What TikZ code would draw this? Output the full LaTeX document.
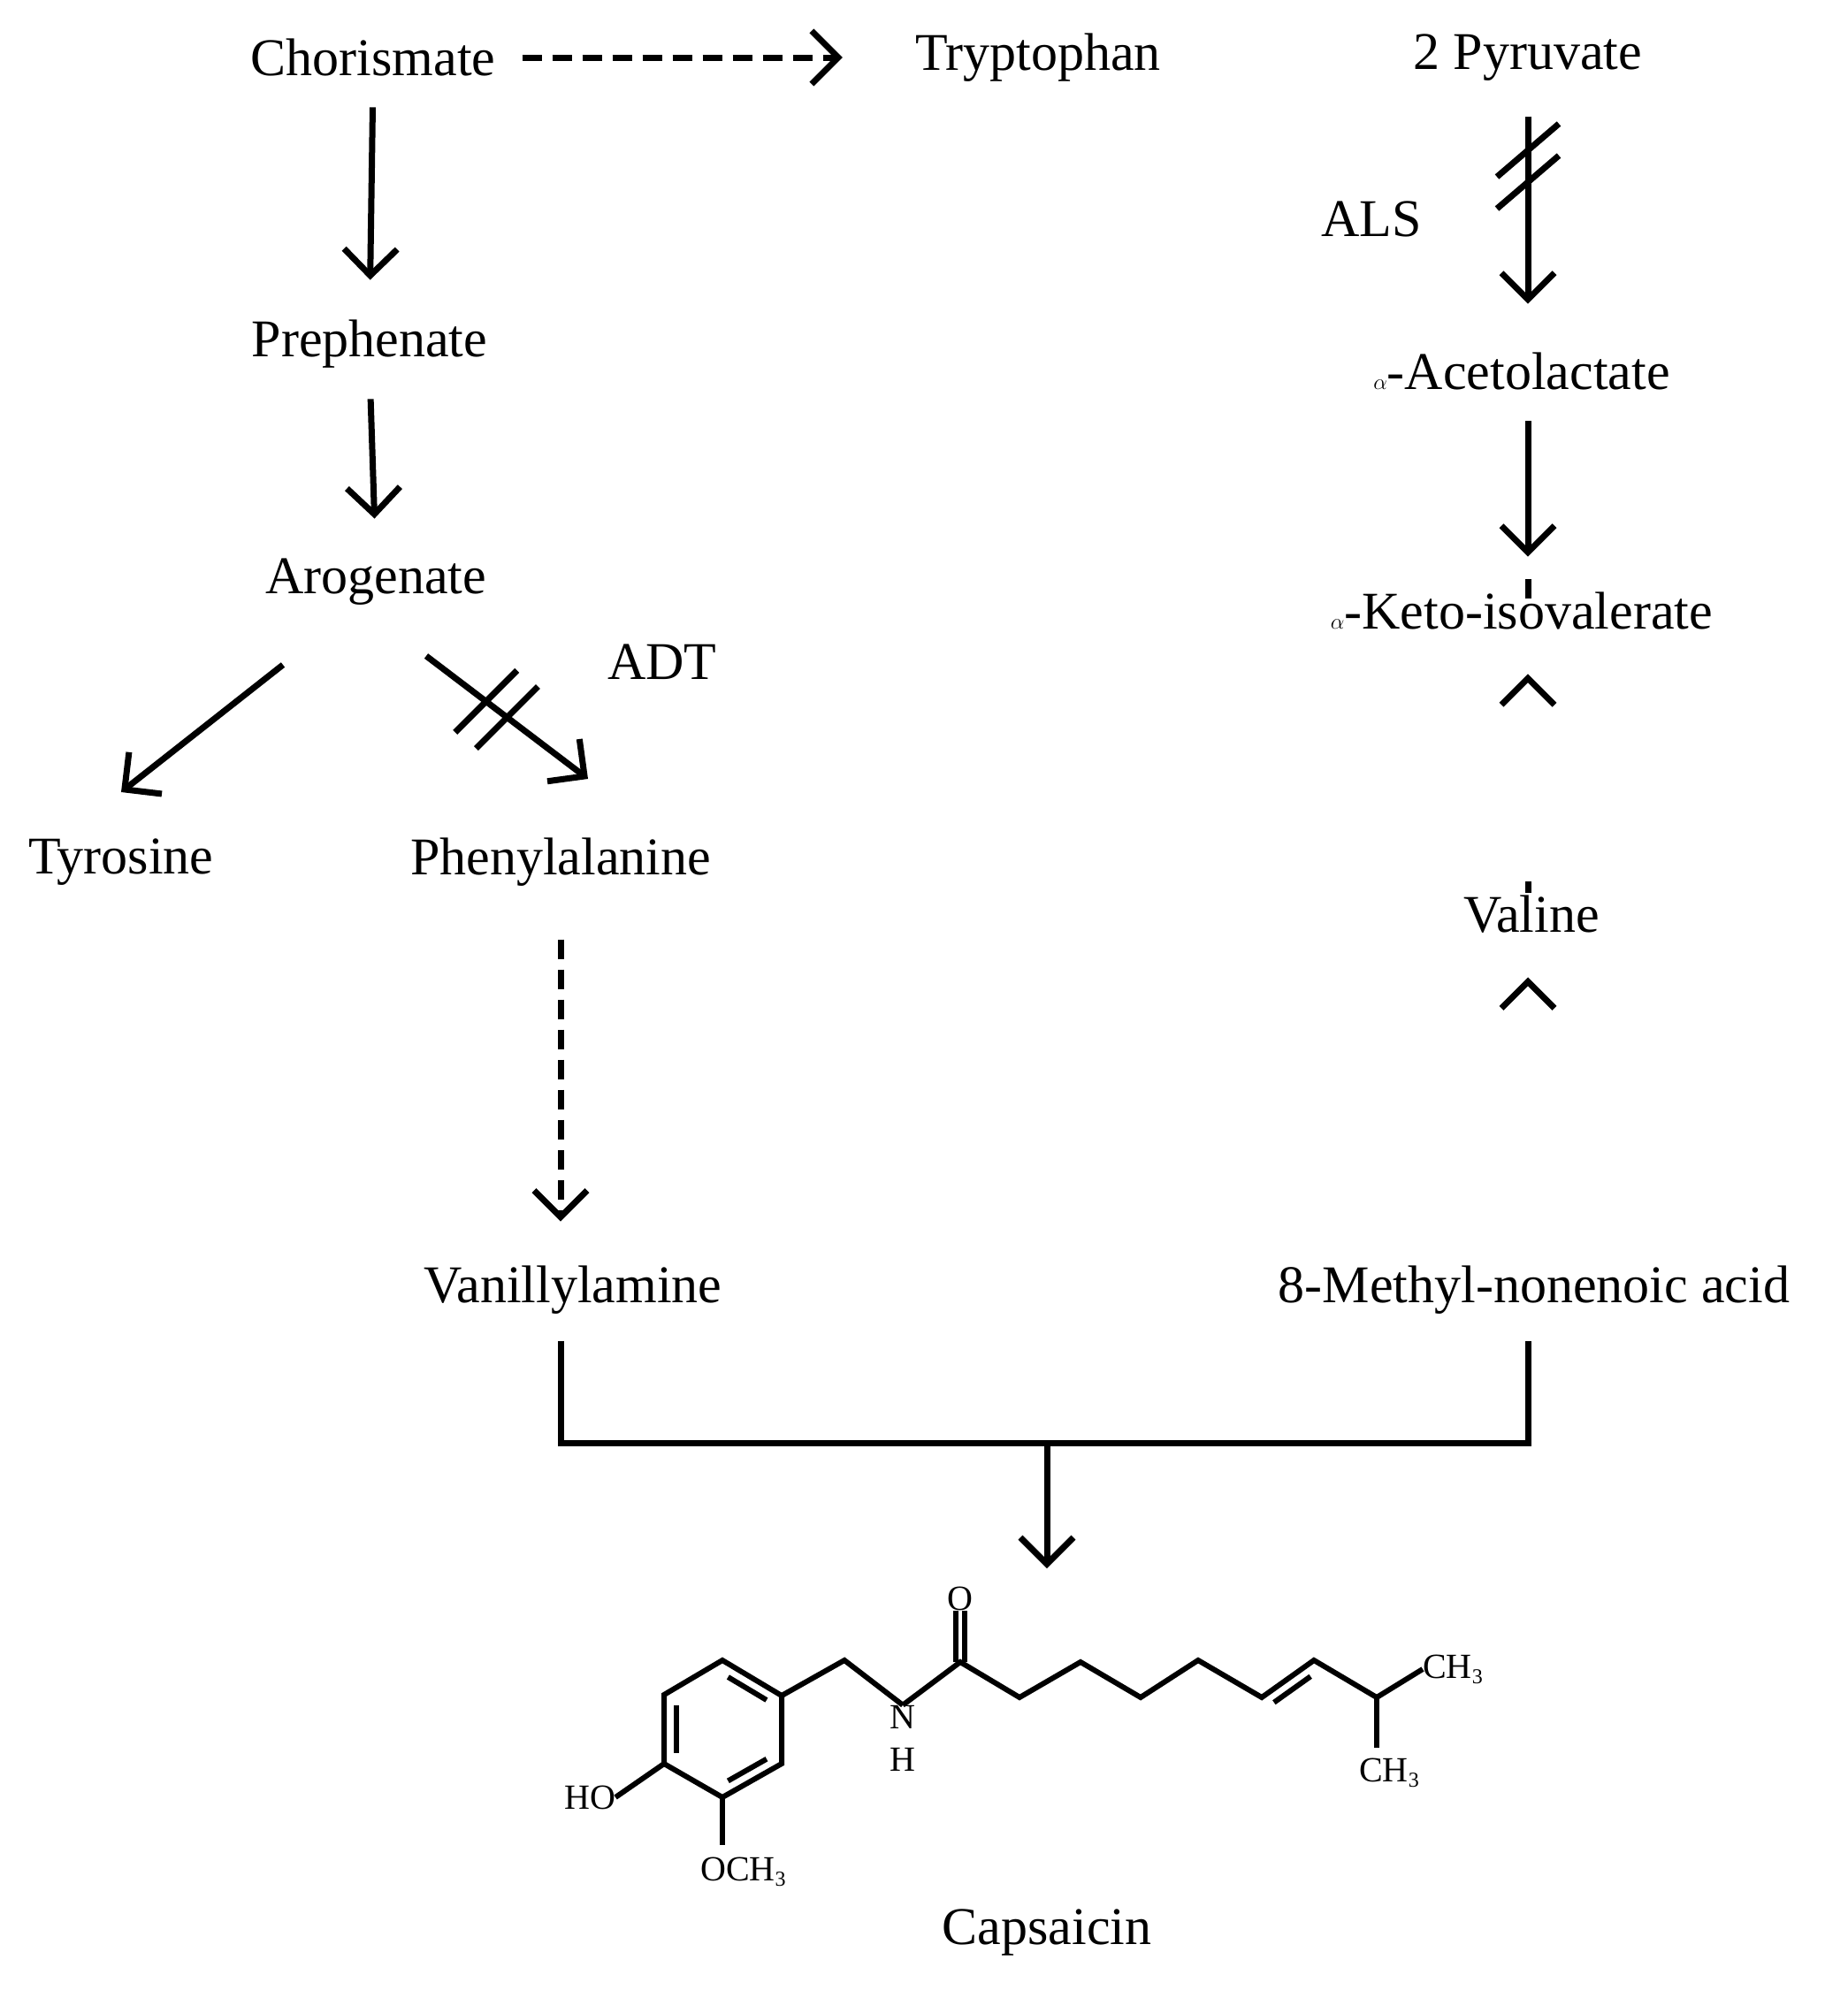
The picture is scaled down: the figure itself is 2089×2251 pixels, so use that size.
\documentclass[tikz,border=0pt]{standalone}
\usepackage{fontspec}
\setmainfont{Liberation Serif}
\usetikzlibrary{arrows.meta,calc}
\begin{document}
\begin{tikzpicture}[x=1pt,y=-1pt,
  lbl/.style={font=\fontsize{60}{66}\selectfont,inner sep=0pt},
  atom/.style={font=\fontsize{40}{44}\selectfont,inner sep=0pt},
  arr/.style={line width=7pt,-{Straight Barb[length=30pt,width=60pt,line width=7pt]}},
  dsh/.style={arr,dash pattern=on 22pt off 12pt},
  bond/.style={line width=6pt,line join=miter,line cap=butt},
  slash/.style={line width=7pt}]
\useasboundingbox (0,0) rectangle (2089,2251);
\node[lbl] (chor) at (422,65) {Chorismate};
\node[lbl] (tryp) at (1174,65) {Tryptophan};
\node[lbl] (pyr) at (1728,65) {2 Pyruvate};
\node[lbl] (preph) at (418,389) {Prephenate};
\node[lbl] (arog) at (425,658) {Arogenate};
\node[lbl] (tyr) at (137,975) {Tyrosine};
\node[lbl] (phe) at (634,975) {Phenylalanine};
\node[lbl] (adt) at (749,749) {ADT};
\node[lbl] (vani) at (648,1459) {Vanillylamine};
\node[lbl] (als) at (1551,248) {ALS};
\node[lbl] (acet) at (1721,420) {$\alpha$-Acetolactate};
\node[lbl] (keto) at (1721,691) {$\alpha$-Keto-isovalerate};
\node[lbl] (val) at (1732,1034) {Valine};
\node[lbl] (meth) at (1735,1459) {8-Methyl-nonenoic acid};
\node[lbl] (caps) at (1184,2186) {Capsaicin};

\draw[dsh,shorten <=30pt,shorten >=82pt] (chor.east) -- (tryp.west);
\draw[arr,shorten <=35pt,shorten >=45pt] (chor.south) -- (preph.north);
\draw[arr,shorten <=35pt,shorten >=45pt] (preph.south) -- (arog.north);
\coordinate (a1) at (320,752); \coordinate (a2) at (137,896);
\coordinate (b1) at (482,742); \coordinate (b2) at (665,881);
\draw[arr] (a1) -- (a2);
\draw[arr] (b1) -- (b2);
\draw[slash] ($(b1)!0.37!(b2)+(-35,35)$) -- ++(70,-70);
\draw[slash] ($(b1)!0.50!(b2)+(-35,35)$) -- ++(70,-70);
\draw[dsh,shorten <=60pt,shorten >=50pt] (phe.south) -- (phe.south |- vani.north);
\draw[arr,shorten <=40pt,shorten >=55pt] (pyr.south) -- (pyr.south |- acet.north);
\draw[slash] (1693,200) -- ++(70,-60);
\draw[slash] (1693,236) -- ++(70,-60);
\draw[arr,shorten <=35pt,shorten >=40pt] ($(acet.south)+(7,0)$) -- ($(keto.north)+(7,0)$);
\draw[dsh,shorten <=35pt,shorten >=50pt] ($(keto.south)+(7,0)$) -- ($(keto.south)+(7,0)$ |- val.north);
\draw[dsh,shorten <=45pt,shorten >=50pt] ($(val.south)+(-4,0)$) -- ($(val.south)+(-4,0)$ |- meth.north);
\coordinate (j) at (1184,1632);
\draw[line width=7pt,line join=miter] ($(vani.south)+(-14,30)$) |- (j) -| ($(meth.south)+(-7,30)$);
\draw[arr] (j) -- (1184,1774);

% capsaicin structure
\coordinate (r1) at (817,1878); \coordinate (r2) at (884,1918);
\coordinate (r3) at (884,1995); \coordinate (r4) at (817,2033);
\coordinate (r5) at (751,1995); \coordinate (r6) at (751,1917);
\draw[bond] (r1)--(r2)--(r3)--(r4)--(r5)--(r6)--cycle;
\draw[bond] ($(r6)!0.15!(r5)+(14,0)$) -- ($(r6)!0.85!(r5)+(14,0)$);
\draw[bond] ($(r1)!0.2!(r2)+(-7,11)$) -- ($(r1)!0.85!(r2)+(-7,11)$);
\draw[bond] ($(r3)!0.15!(r4)+(-7,-11)$) -- ($(r3)!0.8!(r4)+(-7,-11)$);
\node[atom] (n) at (1021,1942) {N};
\node[atom] (h) at (1021,1990) {H};
\node[atom] (o) at (1086,1808) {O};
\node[atom] (ho) at (667,2033) {HO};
\node[atom,anchor=west] (och) at (792,2117) {OCH\raisebox{-6pt}{\fontsize{24}{26}\selectfont 3}};
\node[atom,anchor=west] (ch1) at (1609,1888) {CH\raisebox{-6pt}{\fontsize{24}{26}\selectfont 3}};
\node[atom,anchor=west] (ch2) at (1537,2005) {CH\raisebox{-6pt}{\fontsize{24}{26}\selectfont 3}};
\coordinate (cc) at (1086,1880);
\draw[bond] (r2) -- (955,1878) -- (n.north);
\draw[bond] (n.north) -- (cc) -- (1153,1920) -- (1222,1880) -- (1290,1920) -- (1355,1878) -- (1427,1920) -- (1486,1878) -- (1557,1920) -- (ch1.west);
\draw[bond] ($(cc)+(-5,0)$) -- ($(o.south)+(-5,0)$);
\draw[bond] ($(cc)+(5,0)$) -- ($(o.south)+(5,0)$);
\draw[bond] ($(1427,1920)!0.15!(1486,1878)+(5,12)$) -- ($(1427,1920)!0.85!(1486,1878)+(5,12)$);
\draw[bond] (1557,1920) -- (1557,1977);
\draw[bond] (r5) -- (ho.east);
\draw[bond] (r4) -- (817,2087);
\end{tikzpicture}
\end{document}
